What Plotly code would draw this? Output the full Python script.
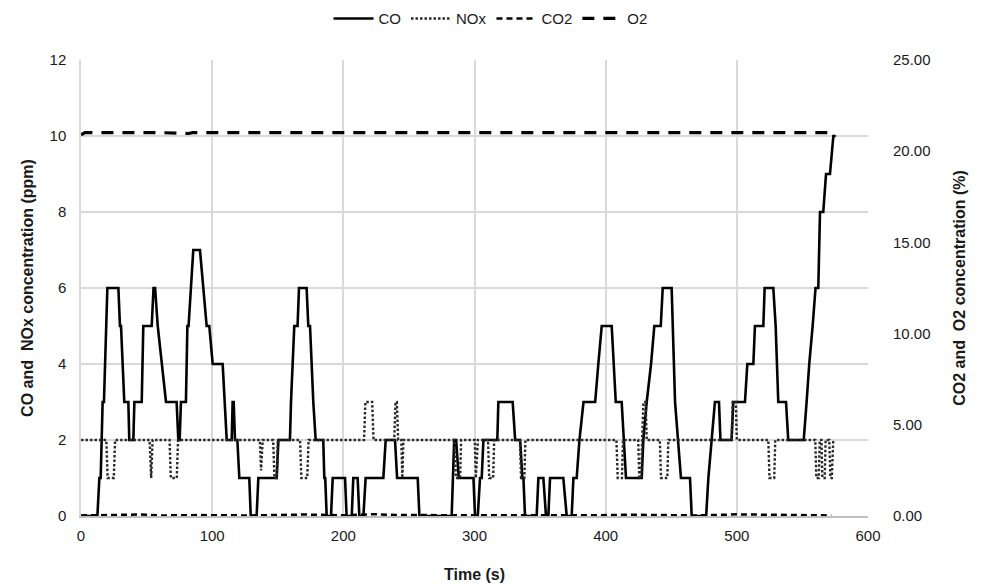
import plotly.graph_objects as go

# ---- data ----
co_t = [0, 12.5, 14, 15, 16.5, 17.5, 20.1, 28.5, 29.7, 30.5, 33, 36.1, 36.8, 39.9, 40.7, 46.3,
        47.5, 53.9, 55.3, 56.5, 58.5, 61.5, 64.8, 72.9, 74.2, 75.2, 76.2, 80, 81.1, 82, 85.6,
        90.7, 93.3, 95.8, 97.8, 100.4, 108, 109.3, 111.1, 114.9, 115.6, 116.4, 117.4, 119.2,
        120.7, 128.3, 129.4, 133.9, 135.2, 149.2, 150.5, 159.3, 160.1, 162.6, 165.1, 166.2,
        172.0, 173.3, 174.6, 177.1, 178.9, 184.7, 185.5, 186.2, 187.3, 190.6, 191.9, 201.3,
        202.5, 206.4, 207.6, 210.9, 212.2, 215.3, 217.0, 230.5, 232.3, 239.4, 241.0, 256.7,
        258.0, 282.6, 284.5, 286.0, 288.0, 299.2, 300.4, 302.5, 304.2, 305.5, 306.8, 317.4,
        318.2, 329.1, 331.0, 334.8, 336.5, 337.3, 338.5, 347.4, 348.7, 352.5, 354.5, 356.3,
        357.6, 367.7, 370.3, 374.1, 375.4, 377.9, 380.0, 383.1, 392.0, 394.4, 397.0, 404.6,
        407.7, 412.2, 414.0, 415.5, 427.5, 428.7, 431.3, 434.6, 437.1, 442.0, 443.5, 450.3,
        452.9, 454.9, 457.4, 464.3, 465.6, 476.6, 478.3, 480.8, 483.3, 486.4, 487.5, 496.0,
        497.3, 506.2, 508.0, 512.6, 513.8, 520.2, 521.2, 527.8, 529.6, 531.6, 537.5, 539.2,
        551.0, 553.2, 555.2, 557.8, 560.0, 562.1, 563.4, 565.9, 568.0, 571.0, 573.6, 575.4]
co_ppm = [0, 0, 1, 1, 3, 3, 6, 6, 5, 5, 3, 3, 2, 2, 3, 3,
          5, 5, 6, 6, 5, 4, 3, 3, 2, 2, 3, 3, 5, 5, 7,
          7, 6, 5, 5, 4, 4, 3, 2, 2, 3, 3, 2, 2,
          1, 1, 0, 0, 1, 1, 2, 2, 3, 5, 5, 6,
          6, 5, 5, 3, 2, 2, 1, 1, 0, 0, 1, 1,
          0, 0, 1, 1, 0, 0, 1, 1, 2, 2, 1, 1,
          0, 0, 2, 2, 1, 1, 0, 0, 1, 1, 2, 2,
          3, 3, 2, 2, 1, 1, 0, 0, 1, 1, 0, 0,
          1, 1, 0, 0, 1, 1, 2, 3, 3, 4, 5, 5,
          3, 3, 2, 1, 1, 2, 3, 4, 5, 5, 6, 6,
          3, 2, 1, 1, 0, 0, 1, 2, 3, 3, 2, 2,
          3, 3, 4, 4, 5, 5, 6, 6, 5, 3, 3, 2,
          2, 3, 4, 5, 6, 6, 8, 8, 9, 9, 10, 10]

nox_t = [0, 19.3, 20.3, 25.0, 26.0, 52.3, 53.5, 54.6, 67.5, 68.5, 73.0, 74.0, 136.3, 137.3,
         138.5, 146.5, 147.5, 149.2, 150.0, 167.0, 168.0, 172.5, 173.5, 215.8, 216.8, 222.0,
         223.0, 238.8, 239.8, 240.8, 241.8, 244.2, 245.0, 245.8, 284.9, 285.8, 289.0, 289.8,
         300.2, 301.0, 302.6, 310.3, 311.2, 314.2, 315.0, 334.6, 335.5, 338.0, 338.8, 408.2,
         409.2, 412.4, 413.2, 424.8, 425.6, 427.0, 427.8, 428.8, 430.5, 431.3, 441.3, 442.2,
         447.0, 447.8, 496.0, 496.8, 499.2, 500.0, 524.0, 524.9, 528.5, 529.3, 559.8, 560.6,
         562.5, 563.2, 564.5, 565.2, 567.0, 567.7, 570.5, 571.3, 572.4, 573.5]
nox_ppm = [2, 2, 1, 1, 2, 2, 1, 2, 2, 1, 1, 2, 2, 1.2,
           2, 2, 1, 1, 2, 2, 1, 1, 2, 2, 3, 3,
           2, 2, 3, 3, 2, 2, 1, 2, 2, 1, 1, 2,
           2, 1, 2, 2, 1, 1, 2, 2, 1, 1, 2, 2,
           1, 1, 2, 2, 1, 1, 2, 3, 3, 2, 2, 1,
           1, 2, 2, 3, 3, 2, 2, 1, 1, 2, 2, 1,
           1, 2, 2, 1, 1, 2, 2, 1, 1, 2]

co2_t = [0, 20, 45, 60, 90, 130, 170, 200, 215, 225, 240, 300, 330, 390, 420, 470, 500, 520, 550, 572]
co2_pct = [0.03, 0.04, 0.08, 0.03, 0.05, 0.03, 0.08, 0.04, 0.09, 0.10, 0.05, 0.03, 0.06, 0.04,
           0.07, 0.03, 0.09, 0.08, 0.04, 0.03]

o2_t = [0, 3, 60, 82, 85, 140, 160, 200, 240, 300, 360, 400, 450, 520, 572]
o2_pct = [20.9, 21.02, 21.02, 20.97, 21.02, 21.02, 20.98, 21.02, 21.0, 21.02, 21.0, 21.02, 21.01, 21.02, 21.02]

x_ticks = [0, 100, 200, 300, 400, 500, 600]

FONT = "Liberation Sans Narrow, Arial Narrow, Liberation Sans, Arial, sans-serif"
TXT = "#1a1a1a"

fig = go.Figure()
fig.add_trace(go.Scatter(x=co_t, y=co_ppm, name="CO", mode="lines",
                         line=dict(color="black", width=2.6)))
fig.add_trace(go.Scatter(x=nox_t, y=nox_ppm, name="NOx", mode="lines",
                         line=dict(color="#2a2a2a", width=2.4, dash="2.5px,2px")))
fig.add_trace(go.Scatter(x=co2_t, y=co2_pct, name="CO2", mode="lines", yaxis="y2",
                         line=dict(color="black", width=2.5, dash="6px,4px")))
fig.add_trace(go.Scatter(x=o2_t, y=o2_pct, name="O2", mode="lines", yaxis="y2",
                         line=dict(color="black", width=3.2, dash="12px,9px")))

fig.update_layout(
    template="none",
    width=981, height=584,
    margin=dict(l=81, r=113, t=60, b=68, autoexpand=False),
    paper_bgcolor="white", plot_bgcolor="white",
    font=dict(family=FONT, size=15, color=TXT),
    showlegend=True,
    legend=dict(orientation="h", x=0.5, xanchor="center", y=0.968, yanchor="middle",
                xref="container", yref="container", bgcolor="rgba(0,0,0,0)",
                font=dict(family=FONT, size=15, color=TXT),
                itemwidth=40, tracegroupgap=0),
    xaxis=dict(range=[0, 600], tickvals=x_ticks, showgrid=True, gridcolor="#d9d9d9",
               gridwidth=1.5, zeroline=False, showline=True, linecolor="#bfbfbf",
               linewidth=1.5, ticks="", ticklabelstandoff=5, automargin=False,
               tickfont=dict(family=FONT, size=15, color=TXT),
               title=dict(text="<b>Time (s)</b>", standoff=26,
                          font=dict(family=FONT, size=16, color=TXT))),
    yaxis=dict(range=[0, 12], dtick=2, showgrid=True, gridcolor="#d9d9d9", gridwidth=1.5,
               zeroline=False, showline=True, linecolor="#d9d9d9", linewidth=1.5,
               ticks="", ticklabelstandoff=10, automargin=False,
               tickfont=dict(family=FONT, size=15, color=TXT),
               title=dict(text="<b>CO and  NOx concentration (ppm)</b>", standoff=12,
                          font=dict(family=FONT, size=16, color=TXT))),
    yaxis2=dict(range=[0, 25], dtick=5, tickformat=".2f", overlaying="y", side="right",
                showgrid=False, zeroline=False, showline=False, ticks="",
                ticklabelstandoff=24, automargin=False,
                tickfont=dict(family=FONT, size=15, color=TXT),
                title=dict(text="<b>CO2 and  O2 concentration (%)</b>", standoff=24,
                           font=dict(family=FONT, size=16, color=TXT))),
)

fig.write_html("out.html")
